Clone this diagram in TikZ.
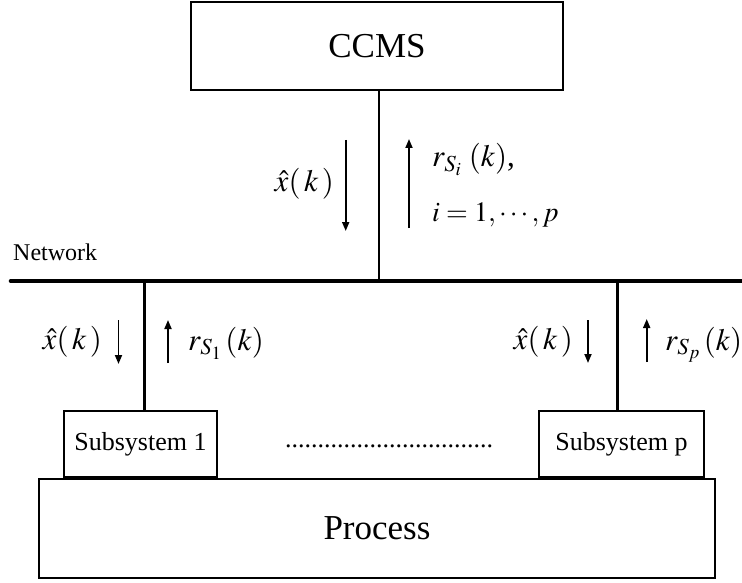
\documentclass[tikz,border=0pt]{standalone}
\usepackage{mathptmx}
\usepackage[no-math]{fontspec}
\setmainfont{Liberation Serif}
\usetikzlibrary{arrows.meta}
\begin{document}
\begin{tikzpicture}[x=1pt,y=-1pt,
  boxst/.style={draw,line width=1.8pt,inner sep=0pt,rectangle},
  bigtxt/.style={font=\fontsize{35}{40}\selectfont},
  subtxt/.style={font=\fontsize{26}{30}\selectfont},
  mathlbl/.style={inner sep=0pt,font=\fontsize{31}{34}\selectfont},
  conn/.style={line width=2.6pt},
  netline/.style={line width=4.6pt,line cap=round},
  sig/.style={line width=1.8pt,-{Triangle[length=9pt,width=7pt]}}]
\useasboundingbox (0,0) rectangle (742,583);
% boxes
\node[boxst,bigtxt,minimum width=372,minimum height=88] (ccms) at (377,46) {CCMS};
\node[boxst,subtxt,minimum width=153,minimum height=66] (sub1) at (140.5,444) {Subsystem 1};
\node[boxst,subtxt,minimum width=165,minimum height=66] (subp) at (621.5,444) {Subsystem p};
\node[boxst,bigtxt,minimum width=676,minimum height=99] (proc) at (377,528.5) {Process};
\node[subtxt,inner sep=0pt] (dots) at (389,446) {................................};
% network
\coordinate (netL) at (11,281);
\coordinate (netR) at (742,281);
\draw[netline] (netL) -- (netR);
\node[anchor=base west,inner sep=0pt,font=\fontsize{24}{28}\selectfont] (netlbl) at (13,260) {Network};
% connectors
\coordinate (n0) at (379,281);
\coordinate (n1) at (144.5,281);
\coordinate (np) at (617.5,281);
\draw[conn] (n0 |- ccms.south) -- (n0);
\draw[conn] (n1) -- (n1 |- sub1.north);
\draw[conn] (np) -- (np |- subp.north);
% signal arrows
\coordinate (a0ds) at (345.7,140); \coordinate (a0de) at (345.7,231);
\coordinate (a0us) at (409,228);   \coordinate (a0ue) at (409,139);
\draw[sig] (a0ds) -- (a0de);
\draw[sig] (a0us) -- (a0ue);
\coordinate (a1ds) at (118.5,320); \coordinate (a1de) at (118.5,364);
\coordinate (a1us) at (168,363);   \coordinate (a1ue) at (168,320);
\draw[sig] (a1ds) -- (a1de);
\draw[sig] (a1us) -- (a1ue);
\coordinate (apds) at (588,320);   \coordinate (apde) at (588,363);
\coordinate (apus) at (646.7,362); \coordinate (apue) at (646.7,319);
\draw[sig] (apds) -- (apde);
\draw[sig] (apus) -- (apue);
% labels
\node[mathlbl,anchor=base east] (x0) at (334,192) {$\hat{x}(\mkern2mu k\mkern2mu)$};
\node[mathlbl,anchor=base west] (r0) at (432,167) {$r_{S_i}\mkern4mu(k)$,};
\node[mathlbl,anchor=base west,font=\fontsize{28}{32}\selectfont] (i0) at (432,222) {$i=1,\cdots,p$};
\node[mathlbl,anchor=base east] (x1) at (102,349) {$\hat{x}(\mkern2mu k\mkern2mu)$};
\node[mathlbl,anchor=base west] (r1) at (188,350) {$r_{S_1}\mkern2mu(k)$};
\node[mathlbl,anchor=base east] (xp) at (573,349) {$\hat{x}(\mkern2mu k\mkern2mu)$};
\node[mathlbl,anchor=base west] (rp) at (665,350) {$r_{S_p}\mkern2mu(k)$};
\end{tikzpicture}
\end{document}
